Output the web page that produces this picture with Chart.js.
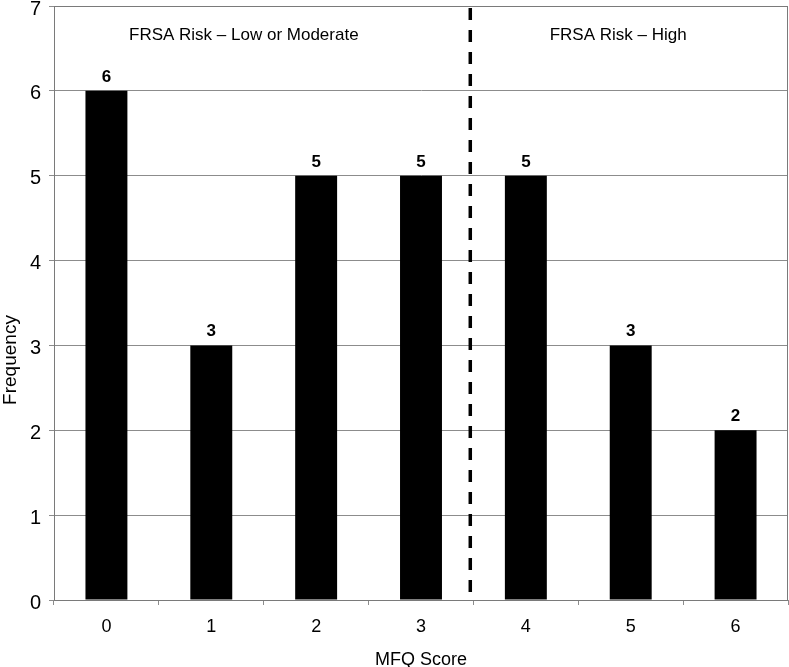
<!DOCTYPE html>
<html><head><meta charset="utf-8">
<script src="https://cdn.jsdelivr.net/npm/chart.js@4"></script>
<style>html,body{margin:0;padding:0;background:#fff;overflow:hidden}#wrap{width:789px;height:667px;position:relative}</style>
</head><body><div id="wrap"><canvas id="c"></canvas></div>
<script>
const categories = ['0', '1', '2', '3', '4', '5', '6'];
const frequency = [6, 3, 5, 5, 5, 3, 2];
const yTickValues = [0, 1, 2, 3, 4, 5, 6, 7];
const xTitle = 'MFQ Score';
const yTitle = 'Frequency';
const regionLabels = ['FRSA Risk – Low or Moderate', 'FRSA Risk – High'];
const regionLabelX = [1.31, 4.88];
const regionLabelY = 6.6;
const cutoffX = 3.47;

const FONT = "'Liberation Sans', Arial, sans-serif";
const GRID = '#8c8c8c';

const extras = {
  id: 'extras',
  afterDatasetsDraw(chart) {
    const ctx = chart.ctx, a = chart.chartArea;
    const xs = chart.scales.x, ys = chart.scales.y;
    ctx.save();
    ctx.strokeStyle = '#7a7a7a'; ctx.lineWidth = 1;
    ctx.strokeRect(a.left + 0.5, a.top + 0.5, a.right - a.left - 1, a.bottom - a.top);
    const cx = xs.getPixelForValue(cutoffX);
    ctx.strokeStyle = '#000'; ctx.lineWidth = 3.5; ctx.setLineDash([12, 10]);
    ctx.beginPath(); ctx.moveTo(cx, a.top + 2); ctx.lineTo(cx, a.bottom - 8); ctx.stroke();
    ctx.setLineDash([]);
    ctx.fillStyle = '#000'; ctx.font = "17px " + FONT;
    ctx.textAlign = 'center'; ctx.textBaseline = 'alphabetic';
    regionLabels.forEach((t, i) => {
      ctx.fillText(t, xs.getPixelForValue(regionLabelX[i]), ys.getPixelForValue(regionLabelY));
    });
    ctx.font = "bold 17px 'Liberation Sans Narrow', " + FONT;
    const meta = chart.getDatasetMeta(0);
    meta.data.forEach((bar, i) => {
      ctx.fillText(String(frequency[i]), bar.x, bar.y - 9);
    });
    ctx.font = "19px " + FONT;
    ctx.translate(15.5, 360);
    ctx.rotate(-Math.PI / 2);
    ctx.fillText(yTitle, 0, 0);
    ctx.restore();
  }
};

new Chart(document.getElementById('c'), {
  type: 'bar',
  data: {
    labels: categories,
    datasets: [{
      data: frequency,
      backgroundColor: '#000',
      borderWidth: 0,
      barPercentage: 0.4,
      categoryPercentage: 1
    }]
  },
  options: {
    responsive: true,
    maintainAspectRatio: false,
    animation: false,
    layout: { padding: { top: 6, right: 1, left: 0, bottom: 0 } },
    plugins: { legend: { display: false }, tooltip: { enabled: false } },
    scales: {
      x: {
        offset: true,
        grid: { offset: true, drawOnChartArea: false, drawTicks: true, tickLength: 5, color: GRID },
        border: { color: GRID },
        ticks: { font: { family: FONT, size: 18 }, color: '#000', padding: 11 },
        title: { display: true, text: xTitle, color: '#000', font: { family: FONT, size: 18, lineHeight: 0.8 }, padding: 0 },
        afterFit: s => { s.height = 67; s.paddingLeft = 0; s.paddingRight = 0; }
      },
      y: {
        min: 0, max: 7,
        afterBuildTicks: s => { s.ticks = yTickValues.map(v => ({ value: v })); },
        grid: { color: GRID, tickLength: 5, drawTicks: true },
        border: { color: GRID },
        ticks: { font: { family: FONT, size: 20 }, color: '#000', padding: 8, labelOffset: 3 },
        afterFit: s => { s.width = 54; s.paddingTop = 0; s.paddingBottom = 0; }
      }
    }
  },
  plugins: [extras]
});
</script></body></html>
